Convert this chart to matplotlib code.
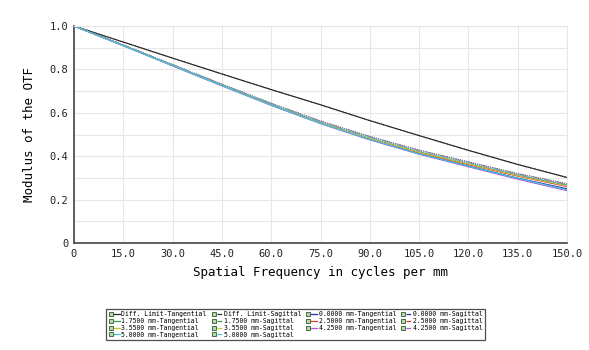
import matplotlib
matplotlib.use("Agg")
import matplotlib.pyplot as plt
from matplotlib.lines import Line2D
from matplotlib.legend_handler import HandlerTuple
import numpy as np

# spatial frequency samples (cycles per mm)
freq = [0, 15, 30, 45, 60, 75, 90, 105, 120, 135, 150]

# diffraction limit
diff_t = [1.0, 0.926, 0.852, 0.779, 0.707, 0.637, 0.564, 0.495, 0.427, 0.362, 0.302]
diff_s = [1.0, 0.926, 0.852, 0.779, 0.707, 0.637, 0.564, 0.495, 0.427, 0.362, 0.302]

# field points (tangential / sagittal)
t_000 = [1.0, 0.911, 0.819, 0.728, 0.638, 0.553, 0.478, 0.412, 0.355, 0.299, 0.250]
s_000 = [1.0, 0.912, 0.822, 0.732, 0.644, 0.562, 0.491, 0.428, 0.374, 0.320, 0.273]
t_175 = [1.0, 0.910, 0.818, 0.727, 0.638, 0.555, 0.482, 0.419, 0.364, 0.312, 0.266]
s_175 = [1.0, 0.912, 0.822, 0.731, 0.643, 0.561, 0.490, 0.427, 0.372, 0.319, 0.272]
t_250 = [1.0, 0.910, 0.818, 0.727, 0.637, 0.553, 0.480, 0.416, 0.361, 0.308, 0.260]
s_250 = [1.0, 0.912, 0.821, 0.731, 0.643, 0.561, 0.489, 0.426, 0.371, 0.318, 0.271]
t_355 = [1.0, 0.910, 0.818, 0.727, 0.637, 0.554, 0.481, 0.418, 0.363, 0.310, 0.263]
s_355 = [1.0, 0.912, 0.821, 0.730, 0.642, 0.560, 0.488, 0.425, 0.370, 0.317, 0.270]
t_425 = [1.0, 0.909, 0.816, 0.724, 0.634, 0.550, 0.475, 0.409, 0.351, 0.294, 0.241]
s_425 = [1.0, 0.912, 0.821, 0.730, 0.642, 0.560, 0.488, 0.425, 0.370, 0.316, 0.269]
t_500 = [1.0, 0.909, 0.817, 0.725, 0.635, 0.551, 0.477, 0.411, 0.354, 0.298, 0.245]
s_500 = [1.0, 0.912, 0.821, 0.730, 0.642, 0.559, 0.487, 0.424, 0.369, 0.315, 0.268]

names = ["Diff. Limit", "0.0000 mm", "1.7500 mm", "2.5000 mm",
         "3.5500 mm", "4.2500 mm", "5.0000 mm"]
tang = [diff_t, t_000, t_175, t_250, t_355, t_425, t_500]
sag = [diff_s, s_000, s_175, s_250, s_355, s_425, s_500]
colors = ["#2b2b2b", "#2a2ab0", "#3a9a5a", "#d83c3c", "#c8c03a", "#b050d8", "#40c8d8"]

x_ticks = [0, 15, 30, 45, 60, 75, 90, 105, 120, 135, 150]
x_tick_labels = ["0", "15.0", "30.0", "45.0", "60.0", "75.0", "90.0",
                 "105.0", "120.0", "135.0", "150.0"]
y_ticks = [0, 0.2, 0.4, 0.6, 0.8, 1.0]
y_tick_labels = ["0", "0.2", "0.4", "0.6", "0.8", "1.0"]

plt.rcParams["font.family"] = "DejaVu Sans Mono"

fig = plt.figure(figsize=(5.89, 3.5), dpi=100)
ax = fig.add_axes([0.1256, 0.3057, 0.8371, 0.62])

handles = {}
for name, t, s, c in zip(names, tang, sag, colors):
    lt, = ax.plot(freq, t, color=c, lw=0.8, ls="-")
    ls_, = ax.plot(freq, s, color=c, lw=0.8, ls=(0, (1, 1)))
    handles[name + "-Tangential"] = lt
    handles[name + "-Sagittal"] = ls_

ax.set_xlim(0, 150)
ax.set_ylim(0, 1.0)
ax.set_xticks(x_ticks)
ax.set_xticklabels(x_tick_labels)
ax.set_yticks(y_ticks)
ax.set_yticklabels(y_tick_labels)
ax.set_yticks(np.arange(0.1, 1.0, 0.2), minor=True)
ax.grid(True, which="both", color="#e6e6e6", lw=0.8)
ax.set_axisbelow(True)
ax.tick_params(length=0, labelsize=7.5, pad=4, colors="#222222")
ax.tick_params(which="minor", length=0)
for side in ["top", "right"]:
    ax.spines[side].set_color("#e6e6e6")
for side in ["left", "bottom"]:
    ax.spines[side].set_color("#444444")
    ax.spines[side].set_linewidth(1.2)

ax.set_xlabel("Spatial Frequency in cycles per mm", fontsize=9, labelpad=5)
ax.set_ylabel("Modulus of the OTF", fontsize=9, labelpad=10)

# legend, ordered column-wise to match the 4-column layout
order = [
    "Diff. Limit-Tangential", "1.7500 mm-Tangential", "3.5500 mm-Tangential", "5.0000 mm-Tangential",
    "Diff. Limit-Sagittal", "1.7500 mm-Sagittal", "3.5500 mm-Sagittal", "5.0000 mm-Sagittal",
    "0.0000 mm-Tangential", "2.5000 mm-Tangential", "4.2500 mm-Tangential",
    "0.0000 mm-Sagittal", "2.5000 mm-Sagittal", "4.2500 mm-Sagittal",
]
box = Line2D([], [], ls="none", marker="s", markersize=3.4,
             markerfacecolor="#b8d8a8", markeredgecolor="#2a5a2a", markeredgewidth=0.6)
leg_handles = []
for lab in order:
    h = handles[lab]
    line = Line2D([], [], color=h.get_color(), lw=0.9, ls=h.get_linestyle())
    leg_handles.append((box, line))

leg = fig.legend(leg_handles, order, ncol=4, loc="lower left",
                 bbox_to_anchor=(0.175, 0.02, 0.654, 0.091), mode="expand",
                 fontsize=4.7, handlelength=1.8, handletextpad=0.2,
                 columnspacing=0.6, labelspacing=0.12, borderpad=0.3,
                 fancybox=False, frameon=True,
                 handler_map={tuple: HandlerTuple(ndivide=None, pad=0.0)})
leg.get_frame().set_edgecolor("#222222")
leg.get_frame().set_linewidth(0.9)

fig.savefig("out.png", dpi=100)
